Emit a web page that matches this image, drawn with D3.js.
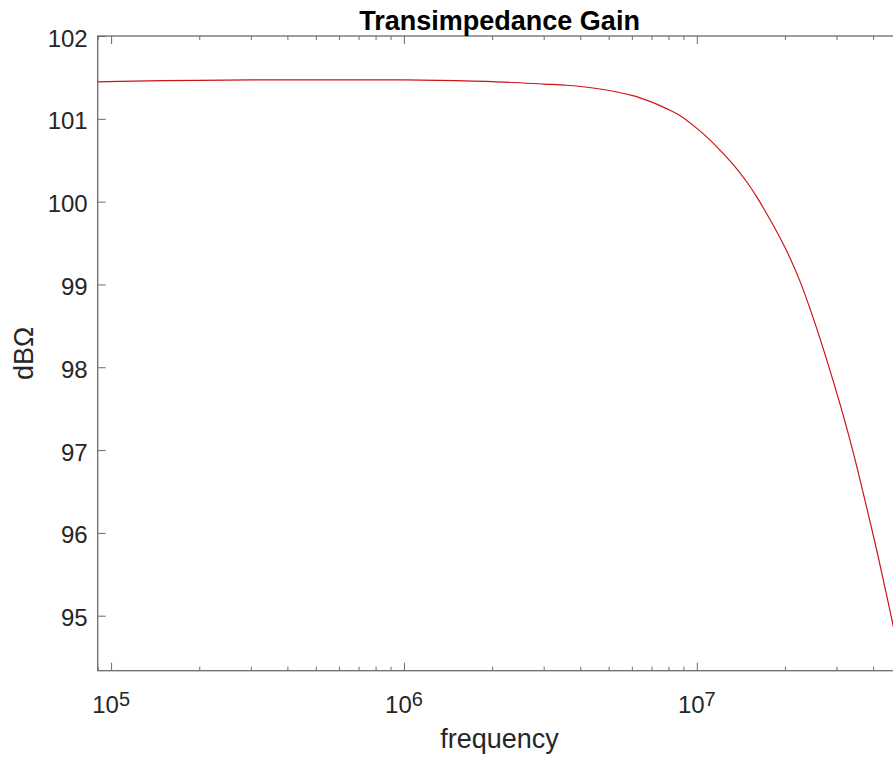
<!DOCTYPE html>
<html>
<head>
<meta charset="utf-8">
<script src="https://cdn.jsdelivr.net/npm/d3@7"></script>
<style>
  body { margin: 0; background: #fff; }
  svg { display: block; }
  text { font-family: "Liberation Sans", Arial, Helvetica, sans-serif; }
</style>
</head>
<body>
<svg id="chart" width="893" height="758"></svg>
<script>
// values (frequency in Hz, gain in dB-ohm)
const frequency = [9.0e4, 1.2e5, 1.5e5, 2e5, 3e5, 5e5, 1e6, 1.5e6, 2e6, 3e6, 3.6e6,
  4.67e6, 6.05e6, 6.92e6, 7.91e6, 8.75e6, 1.02e7, 1.135e7, 1.33e7, 1.48e7, 1.6e7,
  1.82e7, 2.03e7, 2.25e7, 2.5e7, 2.8e7, 3.08e7, 3.41e7, 3.95e7, 4.2e7, 4.56e7, 5.0e7];
const gain = [101.445, 101.455, 101.46, 101.465, 101.47, 101.47, 101.47, 101.46, 101.45, 101.42, 101.405,
  101.36, 101.28, 101.21, 101.12, 101.04, 100.86, 100.71, 100.45, 100.24, 100.06,
  99.72, 99.40, 99.04, 98.59, 98.05, 97.56, 96.99, 96.06, 95.65, 95.07, 94.41];

const xMajorTicks = [1e5, 1e6, 1e7];
const xTickExponents = ['5', '6', '7'];
const yTicks = [95, 96, 97, 98, 99, 100, 101, 102];

const title = 'Transimpedance Gain';
const xLabel = 'frequency';
const yLabel = 'dBΩ';

const svg = d3.select('#chart');
const box = { left: 97.7, right: 901.5, top: 36, bottom: 670.7 };

const x = d3.scaleLog().domain([9.0e4, 5.0e7]).range([box.left, box.right]);
const y = d3.scaleLinear().domain([94.336, 102]).range([box.bottom, box.top]);

const axisColor = '#6b6b6b';
const textColor = '#262626';

svg.append('rect').attr('width', 893).attr('height', 758).attr('fill', '#fff');

// minor ticks come from the log scale itself
const xMinor = x.ticks().filter(d => xMajorTicks.indexOf(d) < 0);

function styleAxis(g) {
  g.select('.domain').remove();
  g.selectAll('.tick line').attr('stroke', axisColor).attr('stroke-width', 1);
  g.selectAll('.tick text').remove();
}

// bottom ticks (pointing inward)
svg.append('g').attr('transform', `translate(0,${box.bottom})`)
  .call(d3.axisBottom(x).tickValues(xMajorTicks).tickSize(-8).tickFormat(''))
  .call(styleAxis);
svg.append('g').attr('transform', `translate(0,${box.bottom})`)
  .call(d3.axisBottom(x).tickValues(xMinor).tickSize(-4).tickFormat(''))
  .call(styleAxis);
// top ticks mirrored
svg.append('g').attr('transform', `translate(0,${box.top})`)
  .call(d3.axisTop(x).tickValues(xMajorTicks).tickSize(-8).tickFormat(''))
  .call(styleAxis);
svg.append('g').attr('transform', `translate(0,${box.top})`)
  .call(d3.axisTop(x).tickValues(xMinor).tickSize(-4).tickFormat(''))
  .call(styleAxis);
// left ticks
svg.append('g').attr('transform', `translate(${box.left},0)`)
  .call(d3.axisLeft(y).tickValues(yTicks).tickSize(-8).tickFormat(''))
  .call(styleAxis);

// the curve
const line = d3.line()
  .x((d, i) => x(frequency[i]))
  .y(d => y(d))
  .curve(d3.curveCatmullRom.alpha(0.5));

svg.append('path')
  .datum(gain)
  .attr('d', line)
  .attr('fill', 'none')
  .attr('stroke', '#cc1418')
  .attr('stroke-width', 1.2);

// box
svg.append('rect')
  .attr('x', box.left).attr('y', box.top)
  .attr('width', box.right - box.left).attr('height', box.bottom - box.top)
  .attr('fill', 'none').attr('stroke', axisColor).attr('stroke-width', 1.3);

// y tick labels
svg.append('g').selectAll('text')
  .data(yTicks)
  .join('text')
  .attr('x', box.left - 10)
  .attr('y', d => y(d) + 10.5)
  .attr('text-anchor', 'end')
  .attr('font-size', 24)
  .attr('fill', textColor)
  .text(d => d);

// x tick labels 10^n
const xl = svg.append('g').selectAll('text')
  .data(xMajorTicks)
  .join('text')
  .attr('x', d => x(d))
  .attr('y', 713.3)
  .attr('text-anchor', 'middle')
  .attr('font-size', 24)
  .attr('fill', textColor);
xl.append('tspan').text('10');
xl.append('tspan')
  .attr('font-size', 20)
  .attr('dy', -7.5)
  .text((d, i) => xTickExponents[i]);

// labels and title
svg.append('text')
  .attr('x', (box.left + box.right) / 2)
  .attr('y', 748)
  .attr('text-anchor', 'middle')
  .attr('font-size', 27)
  .attr('fill', textColor)
  .text(xLabel);

svg.append('text')
  .attr('transform', `translate(33,${(box.top + box.bottom) / 2}) rotate(-90)`)
  .attr('text-anchor', 'middle')
  .attr('font-size', 27)
  .attr('fill', textColor)
  .text(yLabel);

svg.append('text')
  .attr('x', (box.left + box.right) / 2)
  .attr('y', 29.5)
  .attr('text-anchor', 'middle')
  .attr('font-size', 27)
  .attr('font-weight', 'bold')
  .attr('fill', '#000')
  .text(title);
</script>
</body>
</html>
